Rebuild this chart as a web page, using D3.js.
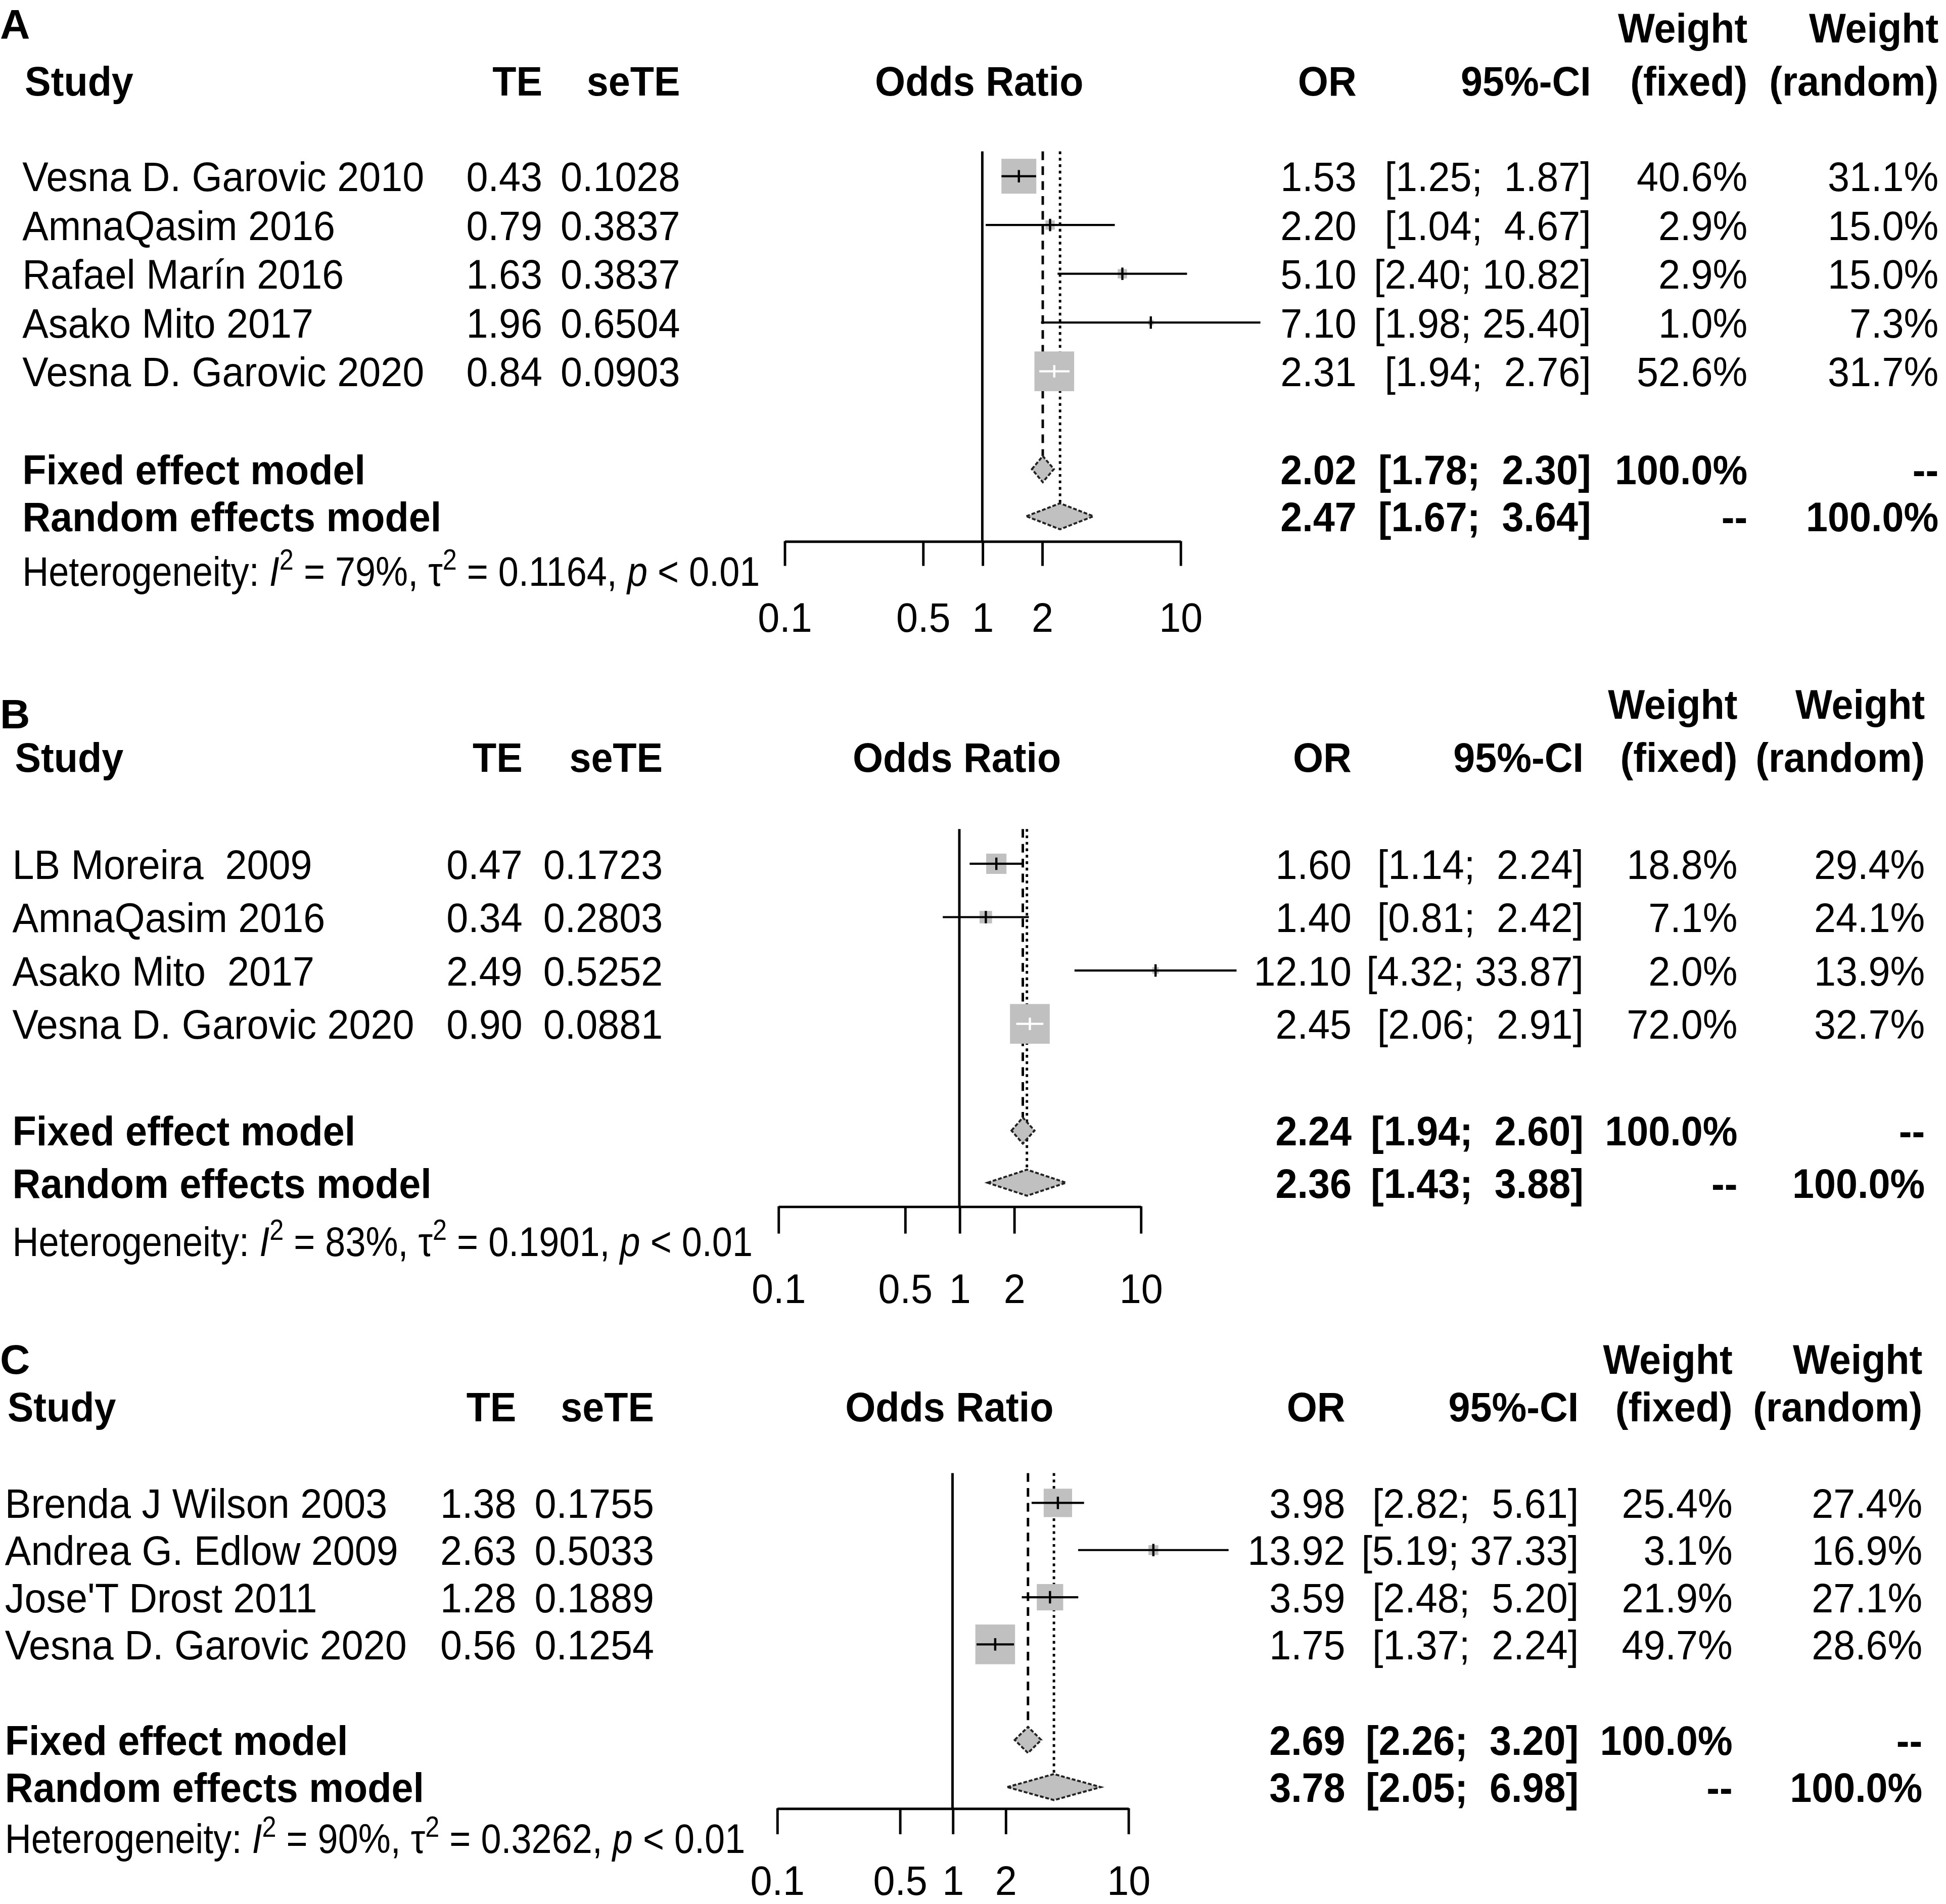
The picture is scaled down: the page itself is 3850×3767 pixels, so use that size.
<!DOCTYPE html>
<html><head><meta charset="utf-8">
<script src="https://cdn.jsdelivr.net/npm/d3@7/dist/d3.min.js"></script>
<style>
html,body{margin:0;padding:0;background:#fff;}
svg text{font-family:"Liberation Sans",Arial,sans-serif;white-space:pre;fill:#000;}
</style></head><body><svg id="chart"></svg>
<script>
// ---------- Panel A ----------
const studiesA = ["Vesna D. Garovic 2010","AmnaQasim 2016","Rafael Marín 2016","Asako Mito 2017","Vesna D. Garovic 2020"];
const teA   = [0.43,0.79,1.63,1.96,0.84];
const seTEA = [0.1028,0.3837,0.3837,0.6504,0.0903];
const orA   = [1.53,2.20,5.10,7.10,2.31];
const loA   = [1.25,1.04,2.40,1.98,1.94];
const hiA   = [1.87,4.67,10.82,25.40,2.76];
const wFixA = [40.6,2.9,2.9,1.0,52.6];
const wRanA = [31.1,15.0,15.0,7.3,31.7];
const modelOrA = [2.02,2.47];
const modelLoA = [1.78,1.67];
const modelHiA = [2.30,3.64];
const hetA = ["79%","0.1164","0.01"];
// ---------- Panel B ----------
const studiesB = ["LB Moreira  2009","AmnaQasim 2016","Asako Mito  2017","Vesna D. Garovic 2020"];
const teB   = [0.47,0.34,2.49,0.90];
const seTEB = [0.1723,0.2803,0.5252,0.0881];
const orB   = [1.60,1.40,12.10,2.45];
const loB   = [1.14,0.81,4.32,2.06];
const hiB   = [2.24,2.42,33.87,2.91];
const wFixB = [18.8,7.1,2.0,72.0];
const wRanB = [29.4,24.1,13.9,32.7];
const modelOrB = [2.24,2.36];
const modelLoB = [1.94,1.43];
const modelHiB = [2.60,3.88];
const hetB = ["83%","0.1901","0.01"];
// ---------- Panel C ----------
const studiesC = ["Brenda J Wilson 2003","Andrea G. Edlow 2009","Jose'T Drost 2011","Vesna D. Garovic 2020"];
const teC   = [1.38,2.63,1.28,0.56];
const seTEC = [0.1755,0.5033,0.1889,0.1254];
const orC   = [3.98,13.92,3.59,1.75];
const loC   = [2.82,5.19,2.48,1.37];
const hiC   = [5.61,37.33,5.20,2.24];
const wFixC = [25.4,3.1,21.9,49.7];
const wRanC = [27.4,16.9,27.1,28.6];
const modelOrC = [2.69,3.78];
const modelLoC = [2.26,2.05];
const modelHiC = [3.20,6.98];
const hetC = ["90%","0.3262","0.01"];
// shared
const tickValues = [0.1,0.5,1,2,10];
const tickLabels = ["0.1","0.5","1","2","10"];
const modelNames = ["Fixed effect model","Random effects model"];
const headerCols = ["Study","TE","seTE","Odds Ratio","OR","95%-CI","(fixed)","(random)"];

// ---------- layout ----------
const W=3850,H=3767,VW=1568,VH=VW*H/W;
const FS=33.5, SX=0.94, HSX=0.876;
const svg=d3.select("#chart").attr("width",W).attr("height",H)
  .attr("viewBox",`0 0 ${VW} ${VH}`);
svg.append("rect").attr("width",VW).attr("height",VH).attr("fill","#fff");

const panels=[
 {letter:"A",studies:studiesA,te:teA,se:seTEA,or:orA,lo:loA,hi:hiA,wf:wFixA,wr:wRanA,mor:modelOrA,mlo:modelLoA,mhi:modelHiA,het:hetA,
  L:{letterY:19,studyX:18,teR:437,seR:548,orC:789,orR:1093,ciR:1282,wfR:1408,wrR:1562,hW:22,hY:65,row0:142,rowStep:39.3,fixY:378,ranY:416,hetY:460,axisY:436,tick:20,labY:497,xr:[632,951],top:122}},
 {letter:"B",studies:studiesB,te:teB,se:seTEB,or:orB,lo:loB,hi:hiB,wf:wFixB,wr:wRanB,mor:modelOrB,mlo:modelLoB,mhi:modelHiB,het:hetB,
  L:{letterY:575,studyX:10,teR:421,seR:534,orC:771,orR:1089,ciR:1276,wfR:1400,wrR:1551,hW:567,hY:610,row0:696,rowStep:43,fixY:911,ranY:953,hetY:1000,axisY:972,tick:22,labY:1038,xr:[627,919],top:668}},
 {letter:"C",studies:studiesC,te:teC,se:seTEC,or:orC,lo:loC,hi:hiC,wf:wFixC,wr:wRanC,mor:modelOrC,mlo:modelLoC,mhi:modelHiC,het:hetC,
  L:{letterY:1095,studyX:4,teR:416,seR:527,orC:765,orR:1084,ciR:1272,wfR:1396,wrR:1549,hW:1095,hY:1133,row0:1211,rowStep:38,fixY:1402,ranY:1440,hetY:1481,axisY:1457,tick:21,labY:1515,xr:[626,909],top:1187}}
];

const GRAY="#c0c0c0";
function txt(g,x,y,s,anchor,bold,sx){
  return g.append("text").attr("transform",`translate(${x},${y}) scale(${sx||SX},1)`).attr("dy","0.36em")
   .attr("font-size",FS).attr("text-anchor",anchor||"start")
   .attr("font-weight",bold?"bold":"normal").text(s);
}

panels.forEach(P=>{
  const L=P.L, g=svg.append("g");
  const x=d3.scaleLog().domain([0.1,10]).range(L.xr);
  const y=d3.scaleLinear().domain([0,1]).range([L.row0,L.row0+L.rowStep]);
  const size=d3.scaleSqrt().domain([0,d3.max(P.wf)]).range([0,32]);
  const hiW=d3.max(P.hi.concat(P.mhi).map(v=>v.toFixed(2).length));
  const ci=(lo,hi)=>"["+lo.toFixed(2)+"; "+hi.toFixed(2).padStart(hiW," ")+"]";

  // letter
  txt(g,0,L.letterY,P.letter,"start",true,1);
  // headers
  txt(g,L.wfR,L.hW,"Weight","end",true);
  txt(g,L.wrR,L.hW,"Weight","end",true);
  txt(g,L.studyX+2,L.hY,headerCols[0],"start",true);
  txt(g,L.teR,L.hY,headerCols[1],"end",true);
  txt(g,L.seR,L.hY,headerCols[2],"end",true);
  txt(g,L.orC,L.hY,headerCols[3],"middle",true);
  txt(g,L.orR,L.hY,headerCols[4],"end",true);
  txt(g,L.ciR,L.hY,headerCols[5],"end",true);
  txt(g,L.wfR,L.hY,headerCols[6],"end",true);
  txt(g,L.wrR,L.hY,headerCols[7],"end",true);

  // study rows text
  P.studies.forEach((s,i)=>{
    const yy=y(i);
    txt(g,L.studyX,yy,s);
    txt(g,L.teR,yy,P.te[i].toFixed(2),"end");
    txt(g,L.seR,yy,P.se[i].toFixed(4),"end");
    txt(g,L.orR,yy,P.or[i].toFixed(2),"end");
    txt(g,L.ciR,yy,ci(P.lo[i],P.hi[i]),"end");
    txt(g,L.wfR,yy,P.wf[i].toFixed(1)+"%","end");
    txt(g,L.wrR,yy,P.wr[i].toFixed(1)+"%","end");
  });
  // model rows text
  const my=[L.fixY,L.ranY];
  modelNames.forEach((m,k)=>{
    txt(g,L.studyX,my[k],m,"start",true);
    txt(g,L.orR,my[k],P.mor[k].toFixed(2),"end",true);
    txt(g,L.ciR,my[k],ci(P.mlo[k],P.mhi[k]),"end",true);
    txt(g,L.wfR,my[k],k===0?"100.0%":"--","end",true);
    txt(g,L.wrR,my[k],k===0?"--":"100.0%","end",true);
  });
  // heterogeneity
  const ht=txt(g,L.studyX,L.hetY,"","start",false,HSX);
  ht.append("tspan").text("Heterogeneity: ");
  ht.append("tspan").attr("font-style","italic").text("I");
  ht.append("tspan").attr("font-size",FS*0.7).attr("dy",-13).text("2");
  ht.append("tspan").attr("dy",13).text(" = "+P.het[0]+", τ");
  ht.append("tspan").attr("font-size",FS*0.7).attr("dy",-13).text("2");
  ht.append("tspan").attr("dy",13).text(" = "+P.het[1]+", ");
  ht.append("tspan").attr("font-style","italic").text("p");
  ht.append("tspan").text(" < "+P.het[2]);

  const dh=10.5;
  // reference lines
  g.append("line").attr("x1",x(1)).attr("x2",x(1)).attr("y1",L.top).attr("y2",L.axisY)
    .attr("stroke","#000").attr("stroke-width",2);
  g.append("line").attr("x1",x(P.mor[0])).attr("x2",x(P.mor[0])).attr("y1",L.top).attr("y2",L.fixY-dh)
    .attr("stroke","#000").attr("stroke-width",2).attr("stroke-dasharray","7,5");
  g.append("line").attr("x1",x(P.mor[1])).attr("x2",x(P.mor[1])).attr("y1",L.top).attr("y2",L.ranY-dh)
    .attr("stroke","#000").attr("stroke-width",2).attr("stroke-dasharray","2.2,3");

  // studies: squares, CI lines, estimate ticks
  P.or.forEach((v,i)=>{
    const cx=x(v), cy=y(i), s=size(P.wf[i]);
    g.append("rect").attr("x",cx-s/2).attr("y",cy-s/2).attr("width",s).attr("height",s).attr("fill",GRAY);
    const x1=x(P.lo[i]), x2=x(P.hi[i]);
    const inside = x1>cx-s/2+1.5 && x2<cx+s/2-1.5;
    const col=inside?"#fff":"#000";
    g.append("line").attr("x1",x1).attr("x2",x2).attr("y1",cy).attr("y2",cy).attr("stroke",col).attr("stroke-width",1.7);
    g.append("line").attr("x1",cx).attr("x2",cx).attr("y1",cy-5).attr("y2",cy+5).attr("stroke",col).attr("stroke-width",1.8);
  });
  // diamonds
  [0,1].forEach(k=>{
    const a=x(P.mlo[k]), b=x(P.mhi[k]), c=x(P.mor[k]), yy=my[k];
    g.append("path").attr("d",`M${a},${yy}L${c},${yy-dh}L${b},${yy}L${c},${yy+dh}Z`)
      .attr("fill",GRAY).attr("stroke","#222").attr("stroke-width",1.6).attr("stroke-dasharray","3,1.5");
  });
  // axis
  const ax=d3.axisBottom(x).tickValues(tickValues).tickFormat((d,i)=>tickLabels[i])
     .tickSize(L.tick).tickSizeOuter(0);
  const ag=g.append("g").attr("transform",`translate(0,${L.axisY})`).call(ax);
  ag.attr("font-family",null).attr("font-size",null);
  ag.selectAll("path,line").attr("stroke","#000").attr("stroke-width",2);
  ag.selectAll("text").attr("font-size",FS).attr("fill","#000")
    .attr("y",null).attr("dy","0.36em")
    .attr("transform",`translate(0,${L.labY-L.axisY}) scale(${SX},1)`);
});
</script></body></html>
